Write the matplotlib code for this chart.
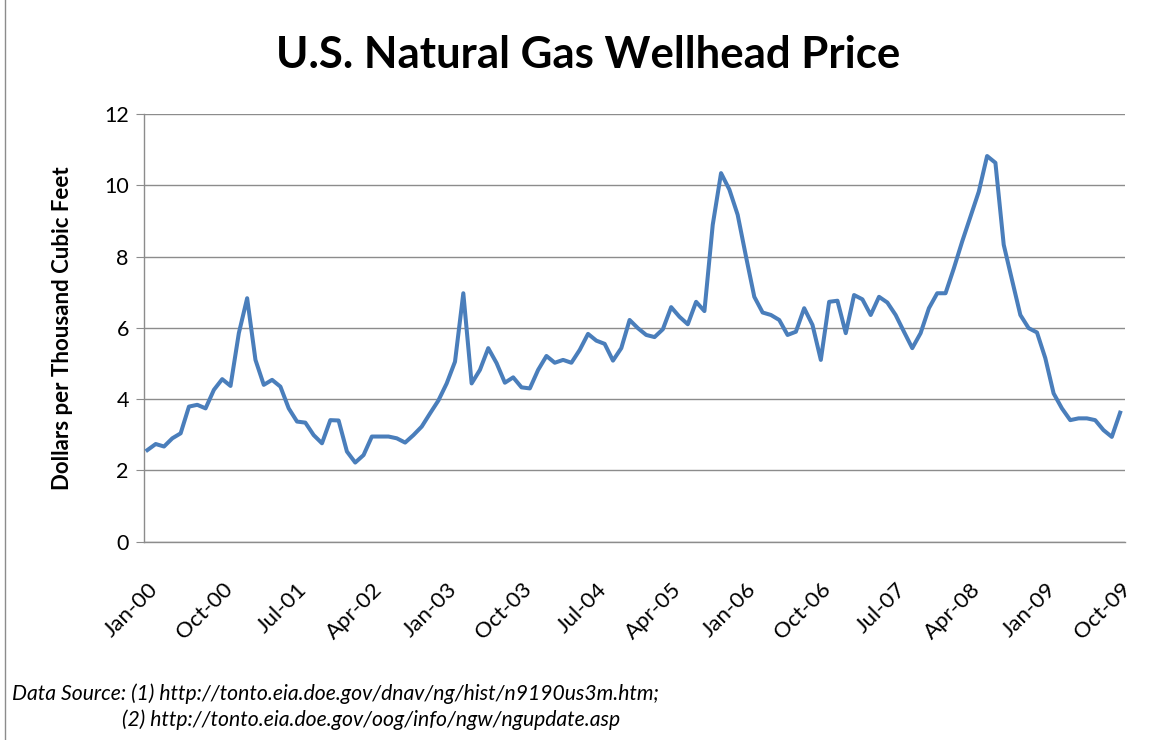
import matplotlib.pyplot as plt
import pandas as pd

plt.rcParams['font.family'] = ['Lato', 'DejaVu Sans']

# monthly wellhead price, Jan-2000 .. Oct-2009
months = pd.date_range('2000-01-01', '2009-10-01', freq='MS')
price = [
    2.57, 2.74, 2.67, 2.90, 3.04, 3.79, 3.84, 3.74, 4.26, 4.56, 4.37, 5.85,   # 2000
    6.83, 5.10, 4.40, 4.54, 4.35, 3.74, 3.37, 3.34, 2.99, 2.76, 3.41, 3.40,   # 2001
    2.53, 2.22, 2.43, 2.95, 2.95, 2.95, 2.90, 2.78, 2.99, 3.23, 3.60, 3.96,   # 2002
    4.44, 5.05, 6.97, 4.44, 4.82, 5.43, 5.01, 4.46, 4.61, 4.33, 4.30, 4.82,   # 2003
    5.21, 5.02, 5.10, 5.02, 5.38, 5.83, 5.64, 5.55, 5.08, 5.43, 6.22, 5.99,   # 2004
    5.80, 5.74, 5.96, 6.58, 6.31, 6.10, 6.73, 6.47, 8.89, 10.34, 9.88, 9.17,  # 2005
    8.00, 6.87, 6.43, 6.36, 6.22, 5.80, 5.89, 6.55, 6.08, 5.10, 6.73, 6.76,   # 2006
    5.85, 6.92, 6.80, 6.36, 6.87, 6.71, 6.36, 5.89, 5.43, 5.85, 6.55, 6.97,   # 2007
    6.97, 7.67, 8.42, 9.12, 9.82, 10.82, 10.63, 8.33, 7.34, 6.36, 5.99, 5.87,  # 2008
    5.15, 4.16, 3.74, 3.41, 3.46, 3.46, 3.41, 3.13, 2.94, 3.62,               # 2009
]
tick_labels = ['Jan-00', 'Oct-00', 'Jul-01', 'Apr-02', 'Jan-03', 'Oct-03', 'Jul-04',
               'Apr-05', 'Jan-06', 'Oct-06', 'Jul-07', 'Apr-08', 'Jan-09', 'Oct-09']
y_ticks = [0, 2, 4, 6, 8, 10, 12]

x = range(len(months))

fig = plt.figure(figsize=(11.58, 7.40), dpi=100)
ax = fig.add_axes([0.1244, 0.268, 0.8472, 0.578])

ax.plot(x, price, color='#4A7EBB', lw=2.9, solid_joinstyle='round', zorder=3)

# Excel-like axes: gray horizontal gridlines, left/bottom spines only
ax.set_xlim(-0.4, len(months) - 0.4)
ax.set_ylim(0, 12)
ax.set_yticks(y_ticks)
ax.set_yticklabels([str(v) for v in y_ticks], fontsize=15.5)
ax.yaxis.grid(True, color='#8c8c8c', lw=1.0)
ax.set_axisbelow(True)
for s in ['top', 'right']:
    ax.spines[s].set_visible(False)
for s in ['left', 'bottom']:
    ax.spines[s].set_color('#8c8c8c')
    ax.spines[s].set_linewidth(1.0)
ax.tick_params(axis='y', length=6, color='#8c8c8c', pad=5)

ax.set_xticks(list(x)[::9])
ax.set_xticklabels(tick_labels, rotation=45, ha='right', rotation_mode='anchor',
                   fontsize=16)
ax.tick_params(axis='x', length=0, pad=27)

ax.set_ylabel('Dollars per Thousand Cubic Feet', fontsize=16, fontweight='bold',
              labelpad=22)

fig.text(0.508, 0.925, 'U.S. Natural Gas Wellhead Price', ha='center', va='center',
         fontsize=31.5, fontweight='bold')

fig.text(0.010, 0.062, 'Data Source: (1) http://tonto.eia.doe.gov/dnav/ng/hist/n9190us3m.htm;',
         fontsize=15.2, style='italic', ha='left', va='center')
fig.text(0.105, 0.028, '(2) http://tonto.eia.doe.gov/oog/info/ngw/ngupdate.asp',
         fontsize=15.2, style='italic', ha='left', va='center')

# chart-area border on the left edge
fig.add_artist(plt.Line2D([0.004, 0.004], [0, 1], color='#8c8c8c', lw=1.0))

fig.savefig('out.png', dpi=100)
